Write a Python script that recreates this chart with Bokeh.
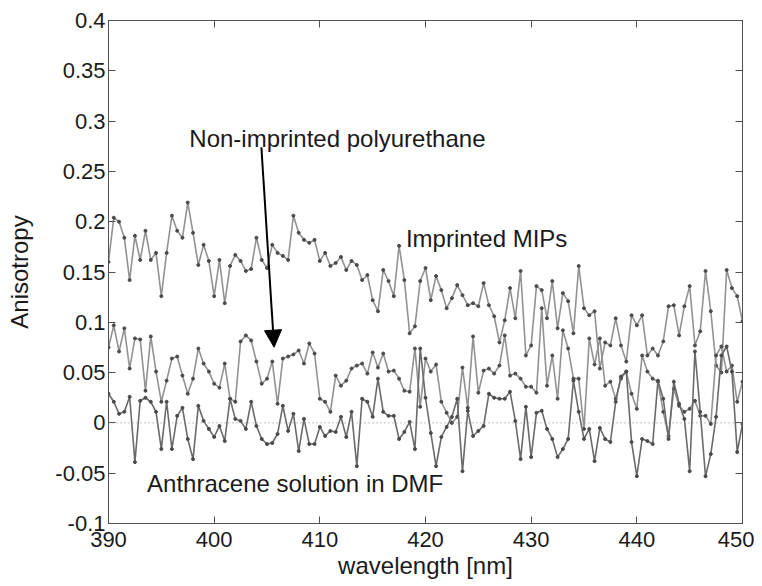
from bokeh.plotting import figure
from bokeh.models import Range1d, FixedTicker, LinearAxis, Span, Arrow, NormalHead, Label
from bokeh.embed import file_html
from bokeh.resources import INLINE

# ---- data ----
wavelength = [
    390.0, 390.5, 391.0, 391.5, 392.0, 392.5, 393.0, 393.5, 394.0, 394.5,
    395.0, 395.5, 396.0, 396.5, 397.0, 397.5, 398.0, 398.5, 399.0, 399.5,
    400.0, 400.5, 401.0, 401.5, 402.0, 402.5, 403.0, 403.5, 404.0, 404.5,
    405.0, 405.5, 406.0, 406.5, 407.0, 407.5, 408.0, 408.5, 409.0, 409.5,
    410.0, 410.5, 411.0, 411.5, 412.0, 412.5, 413.0, 413.5, 414.0, 414.5,
    415.0, 415.5, 416.0, 416.5, 417.0, 417.5, 418.0, 418.5, 419.0, 419.5,
    420.0, 420.5, 421.0, 421.5, 422.0, 422.5, 423.0, 423.5, 424.0, 424.5,
    425.0, 425.5, 426.0, 426.5, 427.0, 427.5, 428.0, 428.5, 429.0, 429.5,
    430.0, 430.5, 431.0, 431.5, 432.0, 432.5, 433.0, 433.5, 434.0, 434.5,
    435.0, 435.5, 436.0, 436.5, 437.0, 437.5, 438.0, 438.5, 439.0, 439.5,
    440.0, 440.5, 441.0, 441.5, 442.0, 442.5, 443.0, 443.5, 444.0, 444.5,
    445.0, 445.5, 446.0, 446.5, 447.0, 447.5, 448.0, 448.5, 449.0, 449.5,
    450.0,
]

imprinted_mips = [
    0.160, 0.204, 0.200, 0.184, 0.142, 0.186, 0.162, 0.191, 0.162, 0.169,
    0.126, 0.169, 0.206, 0.191, 0.184, 0.219, 0.189, 0.157, 0.177, 0.161,
    0.126, 0.162, 0.119, 0.156, 0.167, 0.161, 0.151, 0.153, 0.184, 0.162,
    0.154, 0.177, 0.169, 0.166, 0.162, 0.206, 0.189, 0.182, 0.179, 0.182,
    0.161, 0.169, 0.156, 0.159, 0.165, 0.152, 0.161, 0.157, 0.142, 0.147,
    0.122, 0.111, 0.152, 0.141, 0.126, 0.176, 0.142, 0.089, 0.096, 0.141,
    0.154, 0.122, 0.146, 0.132, 0.114, 0.124, 0.137, 0.127, 0.117, 0.119,
    0.116, 0.139, 0.117, 0.106, 0.080, 0.102, 0.134, 0.104, 0.151, 0.067,
    0.077, 0.136, 0.132, 0.104, 0.141, 0.094, 0.129, 0.121, 0.089, 0.156,
    0.114, 0.107, 0.111, 0.054, 0.080, 0.077, 0.104, 0.077, 0.061, 0.107,
    0.097, 0.107, 0.067, 0.074, 0.067, 0.081, 0.116, 0.117, 0.087, 0.116,
    0.136, 0.077, 0.091, 0.151, 0.111, 0.057, 0.050, 0.152, 0.134, 0.126,
    0.101,
]

non_imprinted = [
    0.075, 0.097, 0.071, 0.094, 0.054, 0.084, 0.083, 0.032, 0.086, 0.051,
    0.021, 0.042, 0.064, 0.066, 0.047, 0.029, 0.044, 0.074, 0.059, 0.051,
    0.039, 0.035, 0.059, 0.024, 0.021, 0.081, 0.087, 0.082, 0.061, 0.039,
    0.044, 0.061, 0.019, 0.064, 0.066, 0.068, 0.072, 0.059, 0.079, 0.069,
    0.024, 0.021, 0.011, 0.047, 0.037, 0.042, 0.054, 0.057, 0.059, 0.049,
    0.070, 0.055, 0.069, 0.051, 0.052, 0.044, 0.032, 0.031, 0.074, 0.016,
    0.064, 0.051, 0.058, 0.021, 0.010, 0.000, 0.006, 0.055, 0.015, 0.086,
    0.030, 0.052, 0.054, 0.049, 0.057, 0.087, 0.047, 0.049, 0.044, 0.036,
    0.036, 0.030, 0.114, 0.037, 0.067, 0.024, 0.092, 0.074, 0.044, 0.044,
    -0.006, 0.084, 0.058, 0.084, 0.037, 0.041, 0.024, 0.044, 0.051, 0.029,
    0.014, 0.067, 0.051, 0.044, 0.041, 0.011, -0.013, 0.034, 0.017, 0.011,
    0.014, 0.022, 0.007, 0.007, -0.001, 0.067, 0.076, 0.051, 0.057, 0.021,
    0.041,
]

anthracene_dmf = [
    0.029, 0.021, 0.009, 0.011, 0.026, -0.039, 0.022, 0.025, 0.021, 0.011,
    -0.026, 0.021, -0.026, 0.007, 0.015, -0.016, -0.036, 0.017, 0.002, -0.006,
    -0.014, -0.003, -0.018, 0.024, 0.004, 0.002, -0.006, 0.021, -0.003, -0.016,
    -0.021, -0.020, -0.011, 0.017, -0.008, 0.009, -0.028, 0.004, -0.021, -0.021,
    -0.004, -0.013, -0.008, -0.009, 0.006, -0.014, 0.011, -0.043, 0.024, 0.021,
    0.006, 0.044, 0.011, 0.007, 0.007, -0.016, -0.009, 0.001, -0.026, 0.074,
    0.025, -0.010, -0.043, -0.014, -0.004, 0.006, 0.024, -0.048, 0.012, -0.013,
    -0.008, -0.003, 0.029, 0.025, 0.024, 0.024, 0.031, 0.002, -0.036, 0.016,
    -0.034, 0.010, 0.012, -0.006, -0.016, -0.034, -0.026, -0.016, 0.042, 0.011,
    -0.016, -0.006, -0.038, -0.005, -0.016, -0.019, 0.021, 0.046, 0.051, -0.019,
    -0.053, -0.016, -0.018, -0.021, 0.042, 0.024, -0.016, 0.041, 0.019, 0.004,
    -0.048, 0.071, 0.011, -0.053, -0.031, 0.006, 0.067, 0.076, 0.051, -0.029,
    -0.001,
]

x_ticks = [390, 400, 410, 420, 430, 440, 450]
y_ticks = [-0.1, -0.05, 0, 0.05, 0.1, 0.15, 0.2, 0.25, 0.3, 0.35, 0.4]
y_tick_labels = ["-0.1", "-0.05", "0", "0.05", "0.1", "0.15", "0.2", "0.25", "0.3", "0.35", "0.4"]

label_non_imprinted = "Non-imprinted polyurethane"
label_mips = "Imprinted MIPs"
label_anthracene = "Anthracene solution in DMF"

# ---- figure ----
FONT = "Liberation Sans"
AX = "#505050"

p = figure(width=754, height=586,
           min_border_left=108, min_border_right=12,
           min_border_top=20, min_border_bottom=63,
           x_range=Range1d(390, 450), y_range=Range1d(-0.1, 0.4),
           output_backend="svg", toolbar_location=None,
           background_fill_color="white", border_fill_color="white")
p.grid.visible = False
p.outline_line_color = AX
p.outline_line_width = 1

for ax in (p.xaxis[0], p.yaxis[0]):
    ax.major_tick_in = 7
    ax.major_tick_out = 0
    ax.minor_tick_line_color = None
    ax.axis_line_color = AX
    ax.major_tick_line_color = AX
    ax.major_label_text_font = FONT
    ax.major_label_text_font_size = "22px"
    ax.major_label_text_color = "#1a1a1a"
    ax.axis_label_text_font = FONT
    ax.axis_label_text_font_size = "24px"
    ax.axis_label_text_font_style = "normal"
    ax.axis_label_text_color = "#1a1a1a"

p.xaxis[0].ticker = FixedTicker(ticks=x_ticks)
p.yaxis[0].ticker = FixedTicker(ticks=y_ticks)
p.yaxis[0].major_label_overrides = {t: s for t, s in zip(y_ticks, y_tick_labels)}
p.xaxis[0].axis_label = "wavelength [nm]"
p.yaxis[0].axis_label = "Anisotropy"
p.xaxis[0].major_label_standoff = 8
p.xaxis[0].axis_label_standoff = 2
p.yaxis[0].major_label_standoff = 3
p.yaxis[0].axis_label_standoff = 19

# mirrored tick marks (box on), no labels drawn
right_ax = LinearAxis(ticker=FixedTicker(ticks=y_ticks))
top_ax = LinearAxis(ticker=FixedTicker(ticks=x_ticks))
for ax in (right_ax, top_ax):
    ax.major_tick_in = 7
    ax.major_tick_out = 0
    ax.minor_tick_line_color = None
    ax.axis_line_color = AX
    ax.major_tick_line_color = AX
    ax.major_label_text_font_size = "1px"
    ax.major_label_text_color = None
    ax.major_label_standoff = 0
p.add_layout(right_ax, "right")
p.add_layout(top_ax, "above")

# zero reference line
p.add_layout(Span(location=0, dimension="width", line_color="#8a8a8a",
                  line_dash="1 3", line_width=1))

# series
LINE_LIGHT = "#929292"
LINE_DARK = "#6a6a6a"
DOT = "#4a4a4a"
p.line(wavelength, imprinted_mips, line_color=LINE_LIGHT, line_width=1.6)
p.scatter(wavelength, imprinted_mips, size=3, color=DOT)
p.line(wavelength, non_imprinted, line_color=LINE_LIGHT, line_width=1.6)
p.scatter(wavelength, non_imprinted, size=3, color=DOT)
p.line(wavelength, anthracene_dmf, line_color=LINE_DARK, line_width=1.6)
p.scatter(wavelength, anthracene_dmf, size=3, color=DOT)

# annotations
for txt, xx, yy in ((label_non_imprinted, 397.65, 0.2827),
                    (label_mips, 418.15, 0.1833),
                    (label_anthracene, 393.65, -0.0602)):
    p.add_layout(Label(x=xx, y=yy, text=txt, text_font=FONT,
                       text_font_size="24px", text_color="#1a1a1a",
                       text_baseline="alphabetic", text_align="left"))

p.add_layout(Arrow(end=NormalHead(size=17, fill_color="black", line_color="black"),
                   x_start=404.47, y_start=0.274, x_end=405.67, y_end=0.0753,
                   line_color="black", line_width=2))

open("out.html", "w").write(file_html(p, INLINE))
